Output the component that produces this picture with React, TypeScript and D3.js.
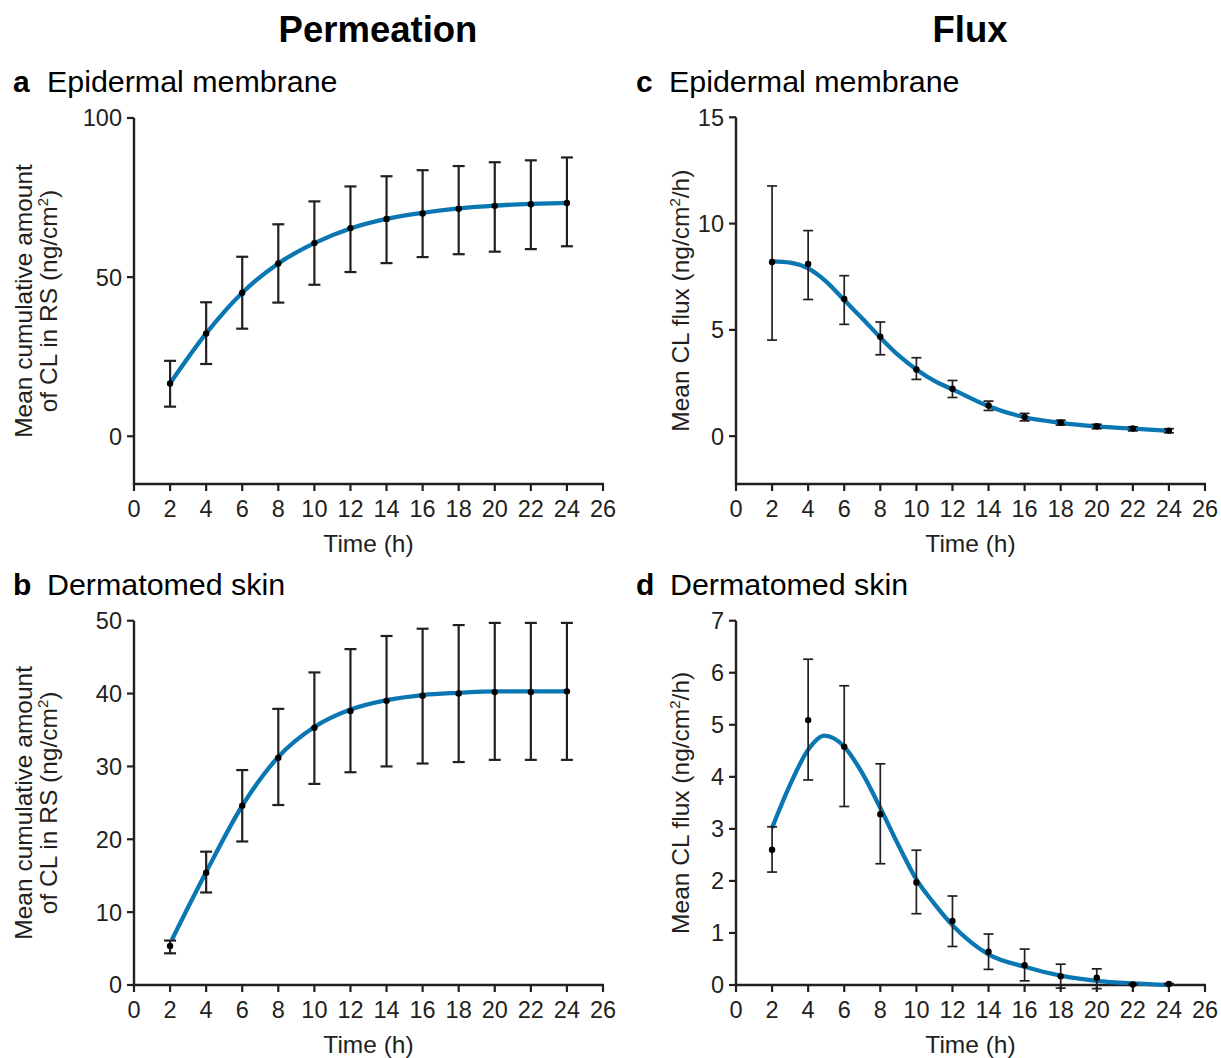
import React from 'react';
import * as d3 from 'd3';

const FONT = "'Liberation Sans', Arial, Helvetica, sans-serif";
const INK = '#231f20';
const BLUE = '#0a77b3';

const times = [2, 4, 6, 8, 10, 12, 14, 16, 18, 20, 22, 24];
const xTicks = [0, 2, 4, 6, 8, 10, 12, 14, 16, 18, 20, 22, 24, 26];

// Panel a: Permeation, epidermal membrane
const aMean = [16.6, 32.3, 45.1, 54.3, 60.7, 65.4, 68.3, 70.0, 71.5, 72.4, 72.9, 73.3];
const aHigh = [23.7, 42.1, 56.4, 66.6, 73.8, 78.5, 81.7, 83.6, 84.9, 86.1, 86.7, 87.6];
const aLow = [9.3, 22.7, 33.8, 42.0, 47.6, 51.6, 54.4, 56.3, 57.2, 58.0, 58.8, 59.7];
const aFitT = [2, 4, 6, 8, 10, 12, 14, 16, 18, 20, 22, 24];
const aFitY = [16.6, 32.3, 45.1, 54.3, 60.7, 65.3, 68.3, 70.2, 71.6, 72.5, 73.0, 73.3];
const aTicks = [0, 50, 100];

// Panel b: Permeation, dermatomed skin
const bMean = [5.35, 15.4, 24.6, 31.2, 35.3, 37.6, 39.0, 39.7, 40.0, 40.2, 40.2, 40.3];
const bHigh = [6.1, 18.3, 29.5, 37.9, 42.9, 46.1, 47.9, 48.9, 49.4, 49.7, 49.7, 49.7];
const bLow = [4.35, 12.7, 19.7, 24.7, 27.6, 29.2, 30.0, 30.4, 30.6, 30.9, 30.9, 30.9];
const bFitT = [2.1, 4, 6, 8, 10, 12, 14, 16, 18, 20, 22, 24];
const bFitY = [6.2, 15.5, 24.6, 31.3, 35.4, 37.8, 39.1, 39.8, 40.1, 40.3, 40.3, 40.3];
const bTicks = [0, 10, 20, 30, 40, 50];

// Panel c: Flux, epidermal membrane
const cMean = [8.19, 8.1, 6.45, 4.68, 3.14, 2.23, 1.44, 0.9, 0.64, 0.47, 0.36, 0.26];
const cHigh = [11.77, 9.67, 7.55, 5.37, 3.69, 2.62, 1.65, 1.07, 0.75, 0.56, 0.44, 0.35];
const cLow = [4.52, 6.43, 5.26, 3.83, 2.67, 1.82, 1.21, 0.72, 0.52, 0.35, 0.25, 0.16];
const cFitT = [2, 3, 4, 5, 6, 7, 8, 9, 10, 11, 12, 14, 16, 18, 20, 22, 24];
const cFitY = [8.22, 8.16, 7.89, 7.27, 6.4, 5.54, 4.64, 3.81, 3.14, 2.6, 2.2, 1.41, 0.89, 0.63, 0.46, 0.35, 0.25];
const cTicks = [0, 5, 10, 15];

// Panel d: Flux, dermatomed skin
const dMean = [2.6, 5.09, 4.58, 3.28, 1.97, 1.23, 0.64, 0.38, 0.17, 0.14, 0.01, 0.02];
const dHigh = [3.04, 6.26, 5.75, 4.25, 2.59, 1.71, 0.98, 0.69, 0.4, 0.31, 0.02, 0.03];
const dLow = [2.17, 3.94, 3.43, 2.33, 1.37, 0.74, 0.3, 0.08, -0.06, -0.07, 0.0, 0.01];
const dFitT = [2, 3, 4, 4.9, 6, 7, 8, 9, 10, 11, 12, 13, 14, 16, 18, 20, 22, 24];
const dFitY = [3.02, 3.85, 4.52, 4.79, 4.58, 4.07, 3.4, 2.69, 2.03, 1.56, 1.15, 0.83, 0.59, 0.35, 0.18, 0.08, 0.03, 0.0];
const dTicks = [0, 1, 2, 3, 4, 5, 6, 7];

type PanelProps = {
  x0: number;
  x1: number;
  yTop: number;
  yBottom: number;
  yDomain: [number, number];
  yTicks: number[];
  mean: number[];
  high: number[];
  low: number[];
  fitT: number[];
  fitY: number[];
  capW: number;
  barW: number;
  labelLines: React.ReactNode[];
  labelX: number[];
};

function Panel(p: PanelProps) {
  const x = d3.scaleLinear().domain([0, 26]).range([p.x0, p.x1]);
  const y = d3.scaleLinear().domain(p.yDomain).range([p.yBottom, p.yTop]);
  const fit = p.fitT.map((t, i) => [t, p.fitY[i]] as [number, number]);
  const line = d3
    .line<[number, number]>()
    .x((d) => x(d[0]))
    .y((d) => y(d[1]))
    .curve(d3.curveMonotoneX);
  const yMaxTick = p.yTicks[p.yTicks.length - 1];
  const cy = (y(yMaxTick) + p.yBottom) / 2;
  return (
    <g fontFamily={FONT} fill={INK}>
      <line x1={p.x0} x2={p.x0} y1={y(yMaxTick)} y2={p.yBottom + 1} stroke={INK} strokeWidth={2.4} />
      <line x1={p.x0 - 1} x2={x(26) + 1} y1={p.yBottom} y2={p.yBottom} stroke={INK} strokeWidth={2.4} />
      {p.yTicks.map((t) => (
        <g key={'y' + t}>
          <line x1={p.x0 - 7} x2={p.x0} y1={y(t)} y2={y(t)} stroke={INK} strokeWidth={2.2} />
          <text x={p.x0 - 12} y={y(t)} dy="0.36em" textAnchor="end" fontSize={23.5}>
            {t}
          </text>
        </g>
      ))}
      {xTicks.map((t) => (
        <g key={'x' + t}>
          <line x1={x(t)} x2={x(t)} y1={p.yBottom} y2={p.yBottom + 7} stroke={INK} strokeWidth={2.2} />
          <text x={x(t)} y={p.yBottom + 33} textAnchor="middle" fontSize={23.5}>
            {t}
          </text>
        </g>
      ))}
      <text x={(p.x0 + x(26)) / 2} y={p.yBottom + 68} textAnchor="middle" fontSize={24.5}>
        Time (h)
      </text>
      {p.labelLines.map((l, i) => (
        <text
          key={'l' + i}
          transform={`translate(${p.labelX[i]},${cy}) rotate(-90)`}
          textAnchor="middle"
          fontSize={24.5}
        >
          {l}
        </text>
      ))}
      <path d={line(fit) || ''} fill="none" stroke={BLUE} strokeWidth={4.3} strokeLinecap="butt" />
      {times.map((t, i) => (
        <g key={'e' + t} stroke={INK} strokeWidth={p.barW}>
          <line x1={x(t)} x2={x(t)} y1={y(p.high[i])} y2={y(p.low[i])} />
          <line x1={x(t) - p.capW / 2} x2={x(t) + p.capW / 2} y1={y(p.high[i])} y2={y(p.high[i])} />
          <line x1={x(t) - p.capW / 2} x2={x(t) + p.capW / 2} y1={y(p.low[i])} y2={y(p.low[i])} />
        </g>
      ))}
      {times.map((t, i) => (
        <circle key={'p' + t} cx={x(t)} cy={y(p.mean[i])} r={3.2} fill="#000" />
      ))}
    </g>
  );
}

const sup = (s: string) => (
  <tspan fontSize={15} dy={-9}>
    {s}
  </tspan>
);

export default function App() {
  const amtLines = [
    <tspan>Mean cumulative amount</tspan>,
    <>
      <tspan>of CL in RS (ng/cm</tspan>
      {sup('2')}
      <tspan dy={9}>)</tspan>
    </>,
  ];
  const fluxLines = [
    <>
      <tspan>Mean CL flux (ng/cm</tspan>
      {sup('2')}
      <tspan dy={9}>/h)</tspan>
    </>,
  ];
  return (
    <div style={{ position: 'absolute', left: 0, top: 0 }}>
      <svg width={1221} height={1058} style={{ display: 'block', background: '#fff' }}>
        <g fontFamily={FONT} fill="#000">
          <text x={378} y={42} textAnchor="middle" fontSize={36.5} fontWeight="bold">
            Permeation
          </text>
          <text x={970} y={42} textAnchor="middle" fontSize={36.5} fontWeight="bold">
            Flux
          </text>
          <text x={13} y={92} fontSize={30} fontWeight="bold">a</text>
          <text x={47} y={92} fontSize={30.4}>Epidermal membrane</text>
          <text x={636} y={92} fontSize={30} fontWeight="bold">c</text>
          <text x={669} y={92} fontSize={30.4}>Epidermal membrane</text>
          <text x={13} y={595} fontSize={30} fontWeight="bold">b</text>
          <text x={47} y={595} fontSize={30.4}>Dermatomed skin</text>
          <text x={636} y={595} fontSize={30} fontWeight="bold">d</text>
          <text x={670} y={595} fontSize={30.4}>Dermatomed skin</text>
        </g>
        <Panel
          x0={134} x1={603} yTop={118} yBottom={484} yDomain={[-15, 100]} yTicks={aTicks}
          mean={aMean} high={aHigh} low={aLow} fitT={aFitT} fitY={aFitY}
          capW={12} barW={2.2} labelLines={amtLines} labelX={[32, 57]}
        />
        <Panel
          x0={134} x1={603} yTop={620.7} yBottom={985} yDomain={[0, 50]} yTicks={bTicks}
          mean={bMean} high={bHigh} low={bLow} fitT={bFitT} fitY={bFitY}
          capW={12} barW={2.2} labelLines={amtLines} labelX={[32, 57]}
        />
        <Panel
          x0={736} x1={1205} yTop={117.3} yBottom={484} yDomain={[-2.25, 15]} yTicks={cTicks}
          mean={cMean} high={cHigh} low={cLow} fitT={cFitT} fitY={cFitY}
          capW={10} barW={1.7} labelLines={fluxLines} labelX={[689]}
        />
        <Panel
          x0={736} x1={1205} yTop={620.7} yBottom={985} yDomain={[0, 7]} yTicks={dTicks}
          mean={dMean} high={dHigh} low={dLow} fitT={dFitT} fitY={dFitY}
          capW={10} barW={1.7} labelLines={fluxLines} labelX={[689]}
        />
      </svg>
    </div>
  );
}
